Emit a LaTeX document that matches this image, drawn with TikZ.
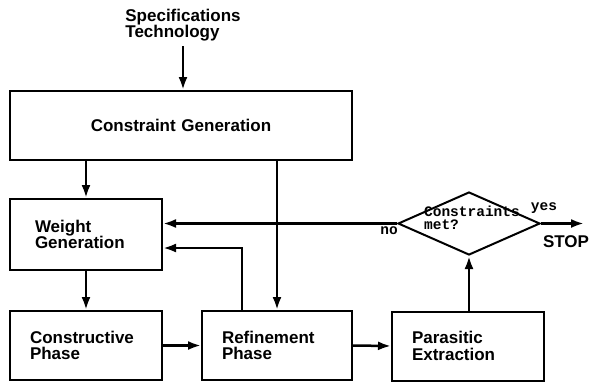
\documentclass[tikz,border=0pt]{standalone}
\usepackage{fontspec}
\setmainfont{Liberation Sans}
\newfontfamily\monofont{Liberation Mono}
\usetikzlibrary{arrows.meta,shapes.geometric}
\tikzset{
  box/.style={draw, line width=2pt, minimum height=69pt, inner xsep=20pt,
    text width=112pt, align=left, font=\fontsize{17}{16.5}\selectfont\bfseries},
  decision/.style={draw, diamond, line width=2pt, minimum width=142pt,
    minimum height=63pt, inner sep=0pt},
  sanslbl/.style={font=\fontsize{17}{16.5}\selectfont\bfseries, inner sep=0pt},
  monolbl/.style={font=\fontsize{14.5}{13}\selectfont\monofont\bfseries, inner sep=0pt},
  arr/.style={line width=2.5pt, -{Latex[length=13pt,width=9pt]}}
}
\begin{document}
\begin{tikzpicture}[x=1pt,y=-1pt]
  \useasboundingbox (0,0) rectangle (591,384);
  \node[sanslbl, align=left, inner ysep=5pt] (spec) at (183,25) {Specifications\\Technology};
  \node[box, text width=302pt, align=center, minimum height=69pt] (cg) at (181,125.5) {Constraint Generation};
  \node[box, inner xsep=25pt, text width=102pt, minimum height=71pt] (wg) at (86,234.5) {Weight\\Generation};
  \node[box] (cp) at (86,345.5) {Constructive\\Phase};
  \node[box, text width=110pt] (rp) at (277,345.5) {Refinement\\Phase};
  \node[box] (pe) at (468,346) {Parasitic\\Extraction};
  \node[decision] (chk) at (469,223.5) {};
  \node[monolbl, align=left] (q) at (472,218) {Constraints\\met?};
  \node[monolbl] (no) at (389,231) {no};
  \node[monolbl] (yes) at (544,208) {yes};
  \coordinate (out) at (584,223.5);
  \node[sanslbl] (stop) at (566,242) {STOP};

  \draw[arr] (spec.south) -- (spec.south |- cg.north);
  \draw[arr] (cg.south -| wg) -- (wg.north);
  \draw[arr] (cg.south -| rp) -- (rp.north);
  \draw[arr] (wg.south) -- (cp.north);
  \draw[arr] (cp.east) -- (rp.west);
  \draw[arr] (rp.east) -- (pe.west);
  \draw[arr] (pe.north -| chk) -- (chk.south);
  \draw[arr] (chk.west) -- (chk.west -| wg.east);
  \draw[arr] ([xshift=-35pt]rp.north) |- ([yshift=-13.5pt]wg.east);
  \draw[arr] (chk.east) -- (out);
\end{tikzpicture}
\end{document}
